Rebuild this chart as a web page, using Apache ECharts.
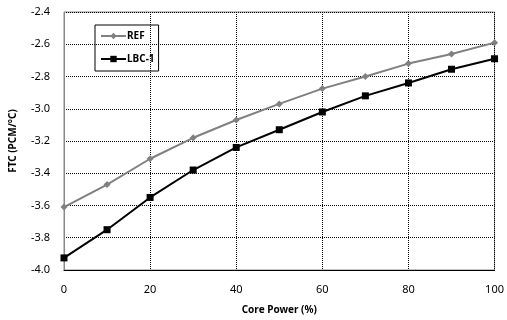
<!DOCTYPE html>
<html>
<head>
<meta charset="utf-8">
<script src="https://cdn.jsdelivr.net/npm/echarts@6/dist/echarts.min.js"></script>
<style>
html, body { margin: 0; padding: 0; background: #fff; }
#cn { width: 507px; height: 320px; }
</style>
</head>
<body>
<div id="cn"></div>
<script>
'use strict';

const arrPower = [0, 10, 20, 30, 40, 50, 60, 70, 80, 90, 100];
const arrRef = [-3.61, -3.47, -3.31, -3.18, -3.07, -2.97, -2.875, -2.80, -2.72, -2.66, -2.59];
const arrLbc = [-3.925, -3.75, -3.55, -3.38, -3.24, -3.13, -3.02, -2.92, -2.84, -2.755, -2.69];

const strFont = 'Noto Sans';

const gridLine = {
    show: true,
    lineStyle: {
        color: '#000',
        type: [1, 1],
        width: 1
    }
};

const optionChart = {
    animation: false,
    textStyle: { fontFamily: strFont },
    grid: {
        left: 63,
        right: 8,
        top: 12,
        bottom: 49,
        show: true,
        borderColor: '#888',
        borderWidth: 1
    },
    legend: {
        left: 95,
        top: 25,
        orient: 'vertical',
        itemGap: 13,
        itemWidth: 25,
        itemHeight: 8,
        padding: [6, 4, 7, 5],
        borderColor: '#000',
        borderWidth: 1,
        textStyle: { fontFamily: strFont, fontSize: 10, fontWeight: 'bold', color: '#000', padding: [0, 0, 0, -4] },
        data: ['REF', 'LBC-1']
    },
    xAxis: {
        type: 'value',
        min: 0,
        max: 100,
        interval: 20,
        name: 'Core Power (%)',
        nameLocation: 'middle',
        nameGap: 35,
        nameTextStyle: { fontFamily: strFont, fontSize: 10, fontWeight: 'bold', color: '#000' },
        axisLine: { show: true, lineStyle: { color: '#000' } },
        axisTick: { show: false },
        axisLabel: { fontFamily: strFont, fontSize: 11, color: '#000', margin: 14 },
        splitLine: gridLine
    },
    yAxis: {
        type: 'value',
        min: -4.0,
        max: -2.4,
        interval: 0.2,
        name: 'FTC (PCM/°C)',
        nameLocation: 'middle',
        nameGap: 46,
        nameTextStyle: { fontFamily: strFont, fontSize: 10, fontWeight: 'bold', color: '#000' },
        axisLine: { show: true, lineStyle: { color: '#888' } },
        axisTick: { show: false },
        axisLabel: {
            fontFamily: strFont,
            fontSize: 11,
            color: '#000',
            margin: 14,
            formatter: (v) => v.toFixed(1)
        },
        splitLine: gridLine
    },
    series: [{
            name: 'REF',
            type: 'line',
            data: arrPower.map((x, i) => [x, arrRef[i]]),
            symbol: 'diamond',
            symbolSize: 7,
            lineStyle: { color: '#808080', width: 2 },
            itemStyle: { color: '#808080' }
        },
        {
            name: 'LBC-1',
            type: 'line',
            data: arrPower.map((x, i) => [x, arrLbc[i]]),
            symbol: 'rect',
            symbolSize: 7,
            lineStyle: { color: '#000', width: 2 },
            itemStyle: { color: '#000' }
        }
    ]
};

const echartsFtc = echarts.init(document.getElementById('cn'));
echartsFtc.setOption(optionChart);
</script>
</body>
</html>
